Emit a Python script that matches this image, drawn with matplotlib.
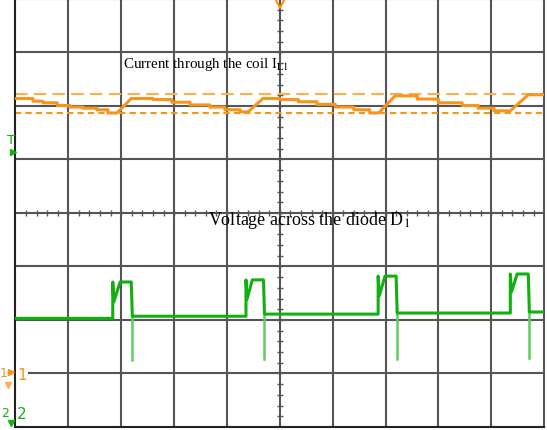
import numpy as np
import matplotlib
matplotlib.use("Agg")
import matplotlib.pyplot as plt

plt.rcParams["mathtext.fontset"] = "stix"

# scope screen: 10 x 8 divisions, values in divisions
# channel 1 - current through the coil (orange)
current_t = [0.00, 0.33, 0.33, 0.52, 0.52, 0.79, 0.79, 1.03, 1.03, 1.28, 1.28, 1.54, 1.54, 1.75, 1.75, 1.92,
             2.19, 2.60, 2.60, 2.96, 2.96, 3.30, 3.30, 3.68, 3.68, 3.96, 3.96, 4.25, 4.25, 4.40,
             4.68, 5.00, 5.00, 5.35, 5.35, 5.70, 5.70, 6.05, 6.05, 6.40, 6.40, 6.70, 6.70, 6.87,
             7.18, 7.60, 7.60, 8.00, 8.00, 8.45, 8.45, 8.75, 8.75, 9.05, 9.05, 9.36,
             9.70, 10.00]
current_v = [2.14, 2.14, 2.09, 2.09, 2.06, 2.06, 2.01, 2.01, 1.98, 1.98, 1.96, 1.96, 1.93, 1.93, 1.87, 1.87,
             2.14, 2.14, 2.12, 2.12, 2.07, 2.07, 2.02, 2.02, 1.98, 1.98, 1.93, 1.93, 1.89, 1.89,
             2.14, 2.14, 2.12, 2.12, 2.08, 2.08, 2.03, 2.03, 1.98, 1.98, 1.93, 1.93, 1.87, 1.87,
             2.19, 2.19, 2.13, 2.13, 2.06, 2.06, 2.01, 2.01, 1.96, 1.96, 1.91, 1.91,
             2.21, 2.21]
cursor_high = 2.23
cursor_low = 1.87

# channel 2 - voltage across the diode (green)
pulse_rise = [1.84, 4.36, 6.86, 9.36]
pulse_ramp = [1.98, 4.48, 6.99, 9.49]
pulse_fall = [2.19, 4.69, 7.20, 9.70]
pulse_top = [-1.29, -1.25, -1.18, -1.14]
pulse_dip = [-1.66, -1.61, -1.55, -1.48]
spike_low = [-2.74, -2.73, -2.72, -2.71]
base_level = [-1.97, -1.93, -1.89, -1.87, -1.85]

ORANGE = "#f7941d"
ORANGE_LT = "#fbb04f"
GREEN = "#10b010"
GREEN_LT = "#5ccf5c"
GRID = "#555555"

fig = plt.figure(figsize=(5.47, 4.31), dpi=100)
ax = fig.add_axes([0.0283, 0.007, 0.9665, 0.993])
ax.set_xlim(0, 10)
ax.set_ylim(-4, 4)
ax.set_xticks([])
ax.set_yticks([])
for s in ["top", "right"]:
    ax.spines[s].set_color(GRID)
    ax.spines[s].set_linewidth(1.5)
for s in ["left", "bottom"]:
    ax.spines[s].set_color("#222222")
    ax.spines[s].set_linewidth(1.5)

# graticule
for x in range(1, 10):
    ax.axvline(x, color=GRID, lw=1.5, zorder=1)
for y in range(-3, 4):
    ax.axhline(y, color=GRID, lw=1.5, zorder=1)
minor = np.arange(0.2, 10, 0.2)
ax.plot(minor, np.zeros_like(minor), ls="none", marker="|", ms=5, color=GRID, mew=1.0, zorder=1)
minor_y = np.arange(-3.8, 4, 0.2)
ax.plot(np.full_like(minor_y, 5), minor_y, ls="none", marker="_", ms=5, color=GRID, mew=1.0, zorder=1)

# channel 1
ax.axhline(cursor_high, color=ORANGE_LT, lw=1.5, ls=(0, (6, 3)), zorder=2)
ax.axhline(cursor_low, color=ORANGE, lw=1.5, ls=(0, (3, 2)), zorder=2)
ax.plot(current_t, current_v, color=ORANGE, lw=2.2, zorder=3)

# channel 2: build the trace from pulse edges
vt, vv = [0.0], [base_level[0]]
for i in range(len(pulse_rise)):
    vt += [pulse_rise[i], pulse_rise[i], pulse_rise[i] + 0.02, pulse_ramp[i], pulse_fall[i], pulse_fall[i] + 0.02]
    vv += [base_level[i], pulse_top[i], pulse_dip[i], pulse_top[i], pulse_top[i], base_level[i + 1]]
    ax.plot([pulse_fall[i] + 0.02, pulse_fall[i] + 0.02], [base_level[i + 1], spike_low[i]],
            color=GREEN_LT, lw=1.8, zorder=3)
vt.append(10.0)
vv.append(base_level[-1])
ax.plot(vt, vv, color=GREEN, lw=2.2, zorder=4)

# labels
ax.text(2.03, 2.73, r"Current through the coil I$_{\mathrm{L1}}$", fontsize=10.8,
        family="Liberation Serif", color="black", zorder=5)
ax.text(3.64, -0.21, r"Voltage across the diode D$_{1}$", fontsize=13,
        family="Liberation Serif", color="black", zorder=5)

# channel markers
ax.text(-0.09, 1.38, "T", color=GREEN, fontsize=9.5, ha="center", va="center", clip_on=False)
ax.plot([-0.04], [1.14], marker=">", color=GREEN, ms=5, clip_on=False, zorder=6)
ax.text(-0.22, -2.98, "1", color=ORANGE, fontsize=9, ha="center", va="center", clip_on=False)
ax.plot([-0.08], [-2.98], marker=">", color=ORANGE, ms=5, clip_on=False, zorder=6)
ax.plot([-0.15], [-3.22], marker="v", color=ORANGE_LT, ms=4, clip_on=False, zorder=6)
ax.text(0.12, -3.01, "1", color=ORANGE, fontsize=11, ha="center", va="center", zorder=6,
        bbox=dict(facecolor="white", edgecolor="none", pad=1))
ax.text(-0.2, -3.72, "2", color=GREEN, fontsize=9, ha="center", va="center", clip_on=False)
ax.plot([-0.08], [-3.93], marker="v", color=GREEN, ms=5, clip_on=False, zorder=6)
ax.text(0.12, -3.75, "2", color=GREEN, fontsize=11, ha="center", va="center", zorder=6)
ax.plot([5.0], [3.93], marker="v", color=ORANGE, ms=7, mfc="none", mew=1.6, clip_on=False, zorder=6)

fig.savefig("out.png", dpi=100)
